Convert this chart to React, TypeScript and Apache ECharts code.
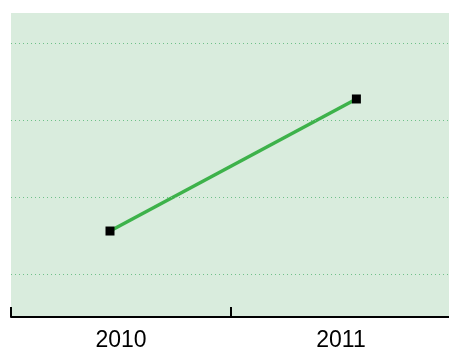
import React, { useEffect, useRef } from "react";
import * as echarts from "echarts";

const categories = ["2010", "2011"];
const pointX = [2010.45, 2011.57];
const pointY = [1.56, 3.28];
const gridValues = [1, 2, 3, 4];

export default function App() {
  const ref = useRef<HTMLDivElement>(null);
  useEffect(() => {
    if (!ref.current) return;
    const chart = echarts.init(ref.current, undefined, { renderer: "svg" });
    chart.setOption({
      animation: false,
      grid: {
        left: 11,
        right: -2,
        top: 13,
        bottom: 35,
        show: true,
        backgroundColor: "#d9ecdd",
        borderWidth: 0,
        outerBoundsMode: "none",
        containLabel: false,
      },
      xAxis: [
        {
          type: "category",
          data: categories,
          boundaryGap: true,
          axisLine: { show: true, lineStyle: { color: "#000", width: 2 } },
          axisTick: { show: true, inside: true, length: 10, lineStyle: { color: "#000", width: 2 } },
          axisLabel: {
            color: "#000",
            fontSize: 23,
            fontFamily: "Liberation Sans, Arial, sans-serif",
            margin: 10,
          },
          splitLine: { show: false },
        },
        {
          type: "value",
          min: 2010,
          max: 2012,
          show: false,
          splitLine: { show: false },
        },
      ],
      yAxis: {
        type: "value",
        min: 0.44,
        max: 4.4,
        show: false,
        splitLine: { show: false },
      },
      series: [
        {
          type: "line",
          xAxisIndex: 1,
          data: pointX.map((x, i) => [x, pointY[i]]),
          symbol: "rect",
          symbolSize: 9,
          itemStyle: { color: "#000" },
          lineStyle: { color: "#3db24a", width: 3.5 },
          markLine: {
            silent: true,
            symbol: "none",
            label: { show: false },
            lineStyle: { color: "#6fc089", width: 1, type: [1, 3] },
            data: gridValues.map((v) => ({ yAxis: v })),
          },
        },
      ],
    });
    return () => chart.dispose();
  }, []);
  return (
    <div
      ref={ref}
      style={{ position: "fixed", left: 0, top: 0, width: 449, height: 352 }}
    />
  );
}
